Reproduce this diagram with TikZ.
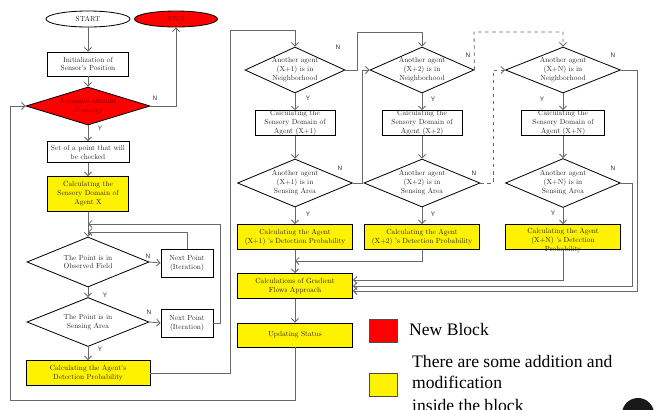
\documentclass[tikz,border=0pt]{standalone}
\usepackage{fontspec}
\newfontfamily\labfont{Liberation Sans}
\newfontfamily\legfont{Liberation Serif}
\newfontfamily\boxfont{lmroman10-regular}[Extension=.otf]
\usetikzlibrary{shapes.geometric,arrows.meta}
\definecolor{lineg}{RGB}{105,105,105}
\definecolor{dred}{RGB}{115,0,0}
\begin{document}
\begin{tikzpicture}[x=0.03cm,y=-0.03cm,
 sz/.style 2 args={minimum width=#1*0.03cm, minimum height=#2*0.03cm},
 txt/.style={align=center, font=\boxfont\fontsize{6.3}{7.6}\selectfont, text=black!85, inner sep=0pt},
 box/.style={draw=black, line width=0.7pt, rectangle, inner sep=0pt, txt},
 ybox/.style={box, fill=yellow},
 dia/.style={draw=black, line width=0.7pt, diamond, inner sep=0pt},
 conn/.style={draw=lineg, line width=0.7pt, -{Straight Barb[length=3pt,width=6pt]}},
 dconn/.style={conn, dashed},
 yn/.style={font=\labfont\fontsize{5.5}{6}\selectfont, text=black!80, inner sep=0pt},
 leg/.style={font=\legfont\fontsize{15}{18}\selectfont, align=left, inner sep=0pt}
]
\clip (0,0) rectangle (656,409);
\fill[white] (0,0) rectangle (656,409);

% main column
\node[draw=black, line width=0.7pt, ellipse, sz={84}{16}, txt] (start) at (88,19) {START};
\node[draw=black, line width=0.7pt, ellipse, fill=red, sz={83}{16}, txt, text=dred] (endn) at (176,19) {END};
\node[box, sz={81}{24}] (init) at (88,64) {Initialization of\\Sensor's Position};
\node[dia, fill=red, sz={124}{38}, label={[txt, text=dred]center:Adequate amount\\of energy}] (energy) at (88,106) {};
\node[box, sz={82}{21}] (setp) at (88,152) {Set of a point that will\\be checked};
\node[ybox, sz={81}{35}] (sdx) at (88,194) {Calculating the\\Sensory Domain of\\Agent X};
\node[dia, sz={122}{50}, label={[txt]center:The Point is in\\Observed Field}] (obs) at (88,262) {};
\node[dia, sz={122}{49}, label={[txt]center:The Point is in\\Sensing Area}] (sens) at (88,322) {};
\node[box, sz={52}{28}] (np1) at (187,263) {Next Point\\(Iteration)};
\node[box, sz={52}{28}] (np2) at (187,323) {Next Point\\(Iteration)};
\node[ybox, sz={124}{25}] (adp) at (88,373) {Calculating the Agent's\\Detection Probability};

% column X+1
\node[dia, sz={100}{46}, label={[txt]center:Another agent\\(X+1) is in\\Neighborhood}] (n1) at (295,70) {};
\node[box, sz={80}{24}] (c1) at (295,123) {Calculating the\\Sensory Domain of\\Agent (X+1)};
\node[dia, sz={115}{48}, label={[txt]center:Another agent\\(X+1) is in\\Sensing Area}] (s1) at (295,183) {};
\node[ybox, sz={115}{25}] (y1) at (295,237) {Calculating the Agent\\(X+1) 's Detection Probability};
% column X+2
\node[dia, sz={104}{46}, label={[txt]center:Another agent\\(X+2) is in\\Neighborhood}] (n2) at (422,70) {};
\node[box, sz={80}{25}] (c2) at (422,123) {Calculating the\\Sensory Domain of\\Agent (X+2)};
\node[dia, sz={116}{48}, label={[txt]center:Another agent\\(X+2) is in\\Sensing Area}] (s2) at (422,183) {};
\node[ybox, sz={115}{25}] (y2) at (422,237) {Calculating the Agent\\(X+2) 's Detection Probability};
% column X+N
\node[dia, sz={115}{46}, label={[txt]center:Another agent\\(X+N) is in\\Neighborhood}] (n3) at (563,70) {};
\node[box, sz={83}{25}] (c3) at (563,123) {Calculating the\\Sensory Domain of\\Agent (X+N)};
\node[dia, sz={115}{49}, label={[txt]center:Another agent\\(X+N) is in\\Sensing Area}] (s3) at (563,183) {};
\node[ybox, sz={115}{25}, label={[txt, yshift=-4*0.03cm]center:Calculating the Agent\\(X+N) 's Detection\\Probability}] (y3) at (563,237) {};

\node[ybox, sz={115}{25}] (grad) at (295,286) {Calculations of Gradient\\Flows Approach};
\node[ybox, sz={115}{24}] (upd) at (295,335) {Updating Status};

% coordinates
\coordinate (j1) at (88,232);
\coordinate (j2) at (88,224);
\coordinate (r2) at (220,224);
\coordinate (t1) at (230,30);
\coordinate (t2) at (357,32);
\coordinate (k1) at (362,183);
\coordinate (t3) at (474,32);
\coordinate (k2) at (493,183);
\coordinate (k3) at (637,291);
\coordinate (k4) at (632,286);
\coordinate (k5) at (563,280);
\coordinate (k6) at (422,261);
\coordinate (q1) at (10,400);

% connectors
\draw[conn] (start) -- (init);
\draw[conn] (init) -- (energy);
\draw[conn] (energy.east) -| (endn.south);
\draw[conn] (energy) -- (setp);
\draw[conn] (setp) -- (sdx);
\draw[conn] (sdx) -- (obs);
\draw[conn] (obs) -- (sens);
\draw[conn] (sens) -- (adp);
\draw[conn] (obs.east) -- (np1.west);
\draw[conn] (sens.east) -- (np2.west);
\draw[conn] (np1.north) |- (j1);
\draw[conn] (np2.east) -| (r2) -- (j2);
\draw[conn] (adp.east) -| (t1) -| (n1.north);
\draw[conn] (n1) -- (c1);
\draw[conn] (c1) -- (s1);
\draw[conn] (s1) -- (y1);
\draw[conn] (n1.east) -| (t2) -| (n2.north);
\draw[conn] (s1.east) -- (k1) |- (n2.west);
\draw[conn] (n2) -- (c2);
\draw[conn] (c2) -- (s2);
\draw[conn] (s2) -- (y2);
\draw[dconn] (n2.east) -- (t3) -| (n3.north);
\draw[dconn] (s2.east) -- (k2) |- (n3.west);
\draw[conn] (n3) -- (c3);
\draw[conn] (c3) -- (s3);
\draw[conn] (s3) -- (y3);
\draw[conn] (n3.east) -| (k3) -- (grad.east |- k3);
\draw[conn] (s3.east) -| (k4) -- (grad.east |- k4);
\draw[conn] (y3.south) -- (k5) -- (grad.east |- k5);
\draw[conn] (y2.south) -- (k6) -- (y1.south |- k6);
\draw[conn] (y1) -- (grad);
\draw[conn] (grad) -- (upd);
\draw[conn] (upd.south) |- (q1) |- (energy.west);

% Y / N labels
\node[yn] (l1) at (155,98) {N};
\node[yn] (l2) at (100,128) {Y};
\node[yn] (l3) at (148,256) {N};
\node[yn] (l4) at (105,295) {Y};
\node[yn] (l5) at (149,312) {N};
\node[yn] (l6) at (100,349) {Y};
\node[yn] (l7) at (338,47) {N};
\node[yn] (l8) at (308,98) {Y};
\node[yn] (l9) at (340,168) {N};
\node[yn] (l10) at (308,214) {Y};
\node[yn] (l11) at (468,55) {N};
\node[yn] (l12) at (433,99) {Y};
\node[yn] (l13) at (474,173) {N};
\node[yn] (l14) at (433,214) {Y};
\node[yn] (l15) at (613,55) {N};
\node[yn] (l16) at (542,99) {Y};
\node[yn] (l17) at (613,168) {N};
\node[yn] (l18) at (553,213) {Y};

% legend
\node[draw=black!70, line width=0.7pt, fill=red, sz={28}{23}, inner sep=0pt] (lr) at (383,331) {};
\node[leg, anchor=base west] (lrt) at (409,335) {New Block};
\node[draw=black!70, line width=0.7pt, fill=yellow, sz={28}{23}, inner sep=0pt] (ly) at (383,385) {};
\node[leg, anchor=base west] (lyt) at (412,367) {There are some addition and};
\node[leg, anchor=base west] (lyt2) at (412,388) {modification};
\node[leg, anchor=base west] (lyt3) at (412,411) {inside the block};
\fill[black!90] (638,414) circle[radius=16*0.03cm];
\end{tikzpicture}
\end{document}
